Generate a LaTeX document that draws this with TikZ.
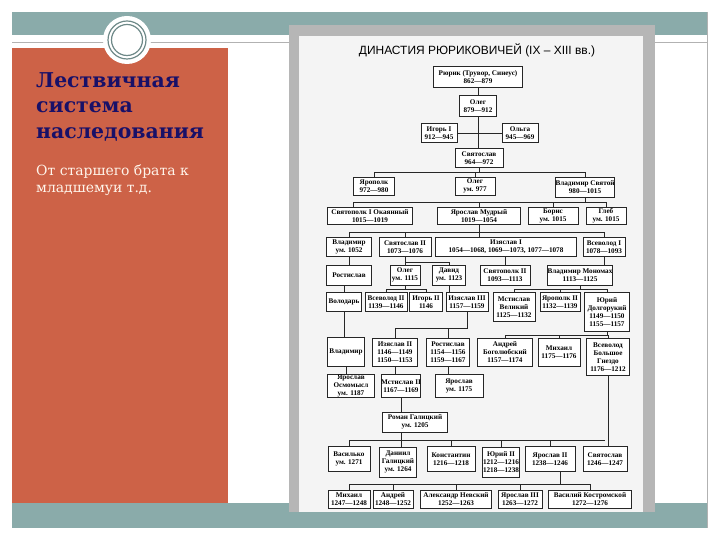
\documentclass[tikz,border=0pt]{standalone}
\usepackage{fontspec}
\setmainfont{DejaVu Serif}
\newfontfamily\chartfont{Liberation Serif}
\newfontfamily\headfont{Liberation Sans}
\usepackage{xcolor}
\usepackage{tikz}
\usetikzlibrary{calc, positioning}

\definecolor{slideteal}{RGB}{138,171,170}
\definecolor{slideorange}{RGB}{205,98,71}
\definecolor{titleblue}{RGB}{24,16,104}
\definecolor{scangray}{RGB}{182,182,182}
\definecolor{scanpaper}{RGB}{244,244,244}

\begin{document}
\begin{tikzpicture}[x=1bp, y=-1bp,
    pers/.style={draw=black!85, line width=0.8pt, fill=white, inner sep=0pt, align=center,
        font=\chartfont\bfseries\fontsize{7.2}{8}\selectfont},
    link/.style={draw=black!85, line width=0.8pt}]
    \useasboundingbox (0,0) rectangle (720,540);
    % 1. Фон слайда
    \fill[slideteal] (12,12) rectangle (707,35);
    \draw[gray!60] (12,42) -- (707,42);
    \draw[gray!60] (707,12) -- (707,528);
    \fill[slideorange] (12,48) rectangle (228,503);
    \fill[slideteal] (12,503) rectangle (707,528);
    \fill[white] (127,40) circle (24);
    \draw[slideteal!80!black, line width=1.2] (127,40) circle (19) (127,40) circle (15.5);

    % 2. Заголовок и текст
    \node[anchor=north west, inner sep=0pt, align=left, text=titleblue,
        font=\bfseries\fontsize{20.5}{26}\selectfont] (title) at (36,72)
        {Лествичная\\система\\наследования};
    \node[anchor=north west, inner sep=0pt, align=left, text=white!92!orange,
        font=\fontsize{14}{18}\selectfont] (sub) at (36,164)
        {От старшего брата к\\младшемуи т.д.};

    % 3. Схема
    \fill[scangray] (289,25) rectangle (655,512);
    \fill[scanpaper] (299,36) rectangle (643,512);
    \node[font=\headfont\fontsize{12}{14}\selectfont] (head) at (477,50)
        {ДИНАСТИЯ РЮРИКОВИЧЕЙ (IX – XIII вв.)};

    \node[pers, minimum width=90, minimum height=21] (rurik) at (478,77) {Рюрик (Трувор, Синеус)\\862—879};
    \node[pers, minimum width=37, minimum height=21] (oleg) at (478,106) {Олег\\879—912};
    \node[pers, minimum width=36, minimum height=19] (igor) at (439,133) {Игорь I\\912—945};
    \node[pers, minimum width=36, minimum height=19] (olga) at (520,133) {Ольга\\945—969};
    \node[pers, minimum width=48, minimum height=19] (svyat) at (479,158) {Святослав\\964—972};

    \node[pers, minimum width=41, minimum height=18] (yaropolk) at (374,186) {Ярополк\\972—980};
    \node[pers, minimum width=40, minimum height=18] (olegb) at (475,186) {Олег\\ум. 977};
    \node[pers, minimum width=56, minimum height=20] (vladimir) at (585,187) {Владимир Святой\\980—1015};

    \node[pers, minimum width=86, minimum height=17] (svyatopolk) at (370,216) {Святополк I Окаянный\\1015—1019};
    \node[pers, minimum width=83, minimum height=17] (yaroslav) at (479,216) {Ярослав Мудрый\\1019—1054};
    \node[pers, minimum width=50, minimum height=17] (boris) at (553,216) {Борис\\ум. 1015};
    \node[pers, minimum width=40, minimum height=17] (gleb) at (606,216) {Глеб\\ум. 1015};

    \node[pers, minimum width=45, minimum height=19] (vladimirb) at (349,247) {Владимир\\ум. 1052};
    \node[pers, minimum width=52, minimum height=19] (svyatoslavb) at (405,247) {Святослав II\\1073—1076};
    \node[pers, minimum width=142, minimum height=19] (izyaslav) at (506,247) {Изяслав I\\1054—1068, 1069—1073, 1077—1078};
    \node[pers, minimum width=42, minimum height=19] (vsevolod) at (604,247) {Всеволод I\\1078—1093};

    \node[pers, minimum width=45, minimum height=20] (rostislav) at (349,275) {Ростислав};
    \node[pers, minimum width=30, minimum height=20] (olegc) at (405,275) {Олег\\ум. 1115};
    \node[pers, minimum width=33, minimum height=20] (david) at (449,275) {Давид\\ум. 1123};
    \node[pers, minimum width=50, minimum height=20] (svyatopolkb) at (505,275) {Святополк II\\1093—1113};
    \node[pers, minimum width=65, minimum height=20] (monomakh) at (580,275) {Владимир Мономах\\1113—1125};

    \node[pers, minimum width=35, minimum height=19] (volodar) at (344,302) {Володарь};
    \node[pers, minimum width=42, minimum height=19] (vsevolodb) at (386,302) {Всеволод II\\1139—1146};
    \node[pers, minimum width=33, minimum height=19] (igorb) at (426,302) {Игорь II\\1146};
    \node[pers, minimum width=42, minimum height=19] (izyaslavc) at (467,302) {Изяслав III\\1157—1159};
    \node[pers, minimum width=42, minimum height=29] (mstislav) at (514,307) {Мстислав\\Великий\\1125—1132};
    \node[pers, minimum width=40, minimum height=19] (yaropolkb) at (560,302) {Ярополк II\\1132—1139};
    \node[pers, minimum width=45, minimum height=39] (yuri) at (607,312) {Юрий\\Долгорукий\\1149—1150\\1155—1157};

    \node[pers, minimum width=37, minimum height=29] (vladimirc) at (346,352) {Владимир};
    \node[pers, minimum width=45, minimum height=28] (izyaslavb) at (395,352) {Изяслав II\\1146—1149\\1150—1153};
    \node[pers, minimum width=43, minimum height=28] (rostislavb) at (448,352) {Ростислав\\1154—1156\\1159—1167};
    \node[pers, minimum width=55, minimum height=28] (andrey) at (505,352) {Андрей\\Боголюбский\\1157—1174};
    \node[pers, minimum width=42, minimum height=28] (mikhail) at (559,352) {Михаил\\1175—1176};
    \node[pers, minimum width=43, minimum height=37] (vsevolodc) at (608,357) {Всеволод\\Большое\\Гнездо\\1176—1212};

    \node[pers, minimum width=47, minimum height=23] (osmomysl) at (351,386) {Ярослав\\Осмомысл\\ум. 1187};
    \node[pers, minimum width=38, minimum height=23] (mstislavb) at (401,386) {Мстислав II\\1167—1169};
    \node[pers, minimum width=48, minimum height=23] (yaroslavb) at (459,386) {Ярослав\\ум. 1175};
    \node[pers, minimum width=66, minimum height=20] (roman) at (415,422) {Роман Галицкий\\ум. 1205};

    \node[pers, minimum width=42, minimum height=25] (vasilko) at (349,459) {Василько\\ум. 1271};
    \node[pers, minimum width=37, minimum height=30] (daniil) at (398,462) {Даниил\\Галицкий\\ум. 1264};
    \node[pers, minimum width=48, minimum height=25] (konstantin) at (451,459) {Константин\\1216—1218};
    \node[pers, minimum width=37, minimum height=30] (yurib) at (501,462) {Юрий II\\1212—1216\\1218—1238};
    \node[pers, minimum width=50, minimum height=25] (yaroslavc) at (550,459) {Ярослав II\\1238—1246};
    \node[pers, minimum width=44, minimum height=25] (svyatoslavc) at (605,459) {Святослав\\1246—1247};

    \node[pers, minimum width=42, minimum height=18] (mikhailb) at (349,499) {Михаил\\1247—1248};
    \node[pers, minimum width=40, minimum height=18] (andreyb) at (393,499) {Андрей\\1248—1252};
    \node[pers, minimum width=72, minimum height=18] (alexander) at (456,499) {Александр Невский\\1252—1263};
    \node[pers, minimum width=44, minimum height=18] (yaroslavd) at (520,499) {Ярослав III\\1263—1272};
    \node[pers, minimum width=84, minimum height=18] (vasily) at (590,499) {Василий Костромской\\1272—1276};

    % 4. Связи
    \coordinate (busA) at (0,172);
    \coordinate (busB) at (0,202);
    \coordinate (busC) at (0,232);
    \coordinate (busS) at (0,262);
    \coordinate (busD) at (0,289);
    \coordinate (busF) at (0,328);
    \coordinate (busG) at (0,335);
    \coordinate (busH) at (0,440);
    \coordinate (busI) at (0,484);

    \draw[link] (rurik) -- (oleg);
    \draw[link] (igor) -- (olga);
    \draw[link] (oleg.south) -- (oleg.south |- svyat.north);

    \draw[link] (svyat.south) -- (svyat.south |- busA);
    \draw[link] (yaropolk.north |- busA) -- (vladimir.north |- busA);
    \foreach \n in {yaropolk, olegb, vladimir}
        \draw[link] (\n.north) -- (\n.north |- busA);

    \draw[link] (vladimir.south) -- (vladimir.south |- busB);
    \draw[link] ([xshift=-17]svyatopolk.north |- busB) -- (gleb.north |- busB);
    \draw[link] ([xshift=-17]svyatopolk.north) -- ([xshift=-17]svyatopolk.north |- busB);
    \foreach \n in {yaroslav, boris, gleb}
        \draw[link] (\n.north) -- (\n.north |- busB);

    \draw[link] (yaroslav.south) -- (yaroslav.south |- izyaslav.north);
    \draw[link] (vladimirb.north |- busC) -- (vsevolod.north |- busC);
    \foreach \n in {vladimirb, svyatoslavb, vsevolod}
        \draw[link] (\n.north) -- (\n.north |- busC);

    \draw[link] (vladimirb) -- (rostislav);
    \draw[link] (svyatoslavb) -- (olegc);
    \draw[link] (svyatoslavb.south |- busS) -- (david.north |- busS) -- (david.north);
    \draw[link] (izyaslav.south -| svyatopolkb) -- (svyatopolkb);
    \draw[link] (vsevolod.south) -- (vsevolod.south |- monomakh.north);

    \draw[link] (rostislav.south -| volodar) -- (volodar);
    \draw[link] (olegc.south) -- (olegc.south |- busD);
    \draw[link] (vsevolodb.north |- busD) -- (igorb.north |- busD);
    \draw[link] (david.south) -- (david.south |- izyaslavc.north);
    \draw[link] (monomakh.south) -- (monomakh.south |- busD);
    \draw[link] (mstislav.north |- busD) -- (yuri.north |- busD);
    \foreach \n in {vsevolodb, igorb, mstislav, yaropolkb, yuri}
        \draw[link] (\n.north) -- (\n.north |- busD);

    \draw[link] (volodar.south) -- (volodar.south |- vladimirc.north);
    \draw[link] (izyaslavc.south) -- (izyaslavc.south |- busF) -- (izyaslavb.north |- busF) -- (izyaslavb.north);
    \draw[link] (rostislavb.north) -- (rostislavb.north |- busF);
    \draw[link] (yuri.south) -- (yuri.south |- busG);
    \draw[link] (andrey.north |- busG) -- (vsevolodc.north |- busG);
    \foreach \n in {andrey, mikhail, vsevolodc}
        \draw[link] (\n.north) -- (\n.north |- busG);

    \draw[link] (vladimirc.south) -- (vladimirc.south |- osmomysl.north);
    \draw[link] (izyaslavb.south) -- (izyaslavb.south |- mstislavb.north);
    \draw[link] (rostislavb.south) -- (rostislavb.south |- yaroslavb.north);
    \draw[link] (mstislavb.south) -- (mstislavb.south |- roman.north);
    \draw[link] (mstislavb |- roman.south) -- (mstislavb |- daniil.north);
    \draw[link] (vsevolodc.south) -- (vsevolodc.south |- svyatoslavc.north);
    \draw[link] (vasilko.north |- busH) -- (svyatoslavc.north |- busH);
    \foreach \n in {vasilko, konstantin, yurib, yaroslavc}
        \draw[link] (\n.north) -- (\n.north |- busH);

    \draw[link] ([xshift=10]yaroslavc.south) -- ([xshift=10]yaroslavc.south |- busI);
    \draw[link] (mikhailb.north |- busI) -- (vasily.north |- busI);
    \foreach \n in {mikhailb, andreyb, alexander, yaroslavd, vasily}
        \draw[link] (\n.north) -- (\n.north |- busI);
\end{tikzpicture}
\end{document}
